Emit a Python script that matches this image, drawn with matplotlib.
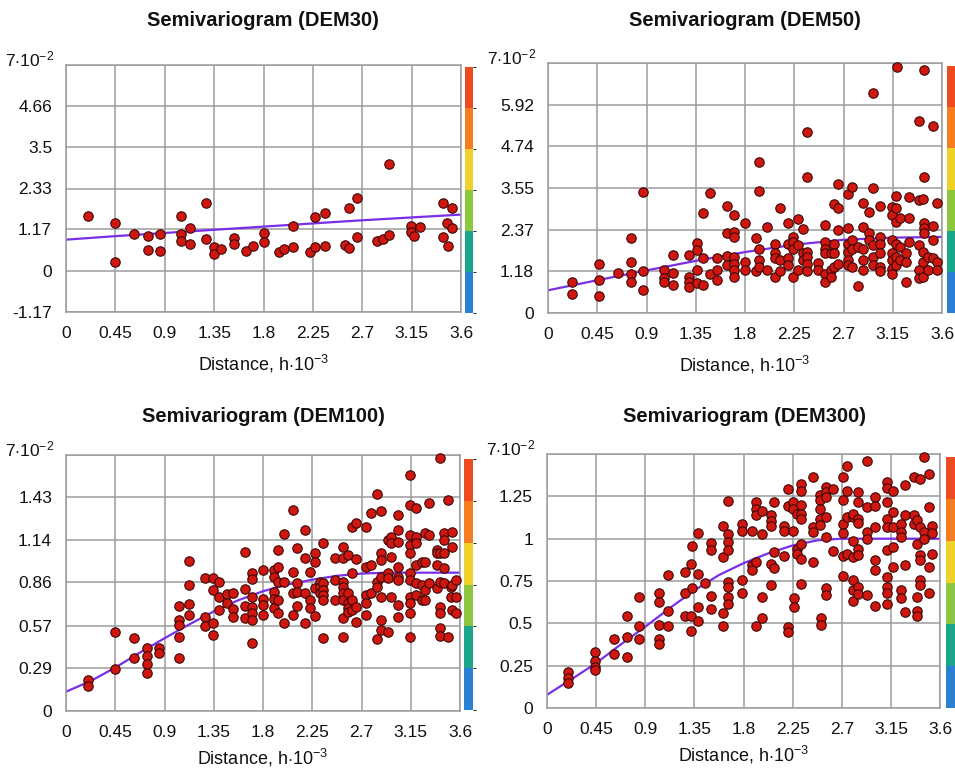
import matplotlib
matplotlib.use('Agg')
import matplotlib.pyplot as plt
from matplotlib.colors import ListedColormap, BoundaryNorm
import matplotlib as mpl

plt.rcParams['font.family'] = ['Liberation Sans', 'DejaVu Sans']
plt.rcParams['mathtext.fontset'] = 'custom'
plt.rcParams['mathtext.rm'] = 'Liberation Sans'
plt.rcParams['mathtext.it'] = 'Liberation Sans:italic'

# ---- data: lag columns and the semivariance values read at each lag ----
dem30_lags = [0.20, 0.45, 0.62, 0.75, 0.86, 1.05, 1.13, 1.28, 1.35, 1.41, 1.53, 1.64, 1.70,
              1.80, 1.94, 1.99, 2.07, 2.22, 2.27, 2.36, 2.54, 2.58, 2.65, 2.83, 2.89, 2.94,
              3.14, 3.17, 3.23, 3.44, 3.47, 3.48, 3.52]
dem30_vals = [[1.54], [1.34, 0.26], [1.04], [0.99, 0.59], [1.05, 0.56], [1.56, 1.04, 0.84],
              [1.20, 0.75], [1.92, 0.91], [0.67, 0.48], [0.61], [0.92, 0.76], [0.57], [0.71],
              [1.07, 0.81], [0.54], [0.62], [1.28, 0.68], [0.54], [0.66, 1.53], [1.63, 0.70],
              [0.72], [1.77, 0.63], [2.05, 0.96], [0.85], [0.91], [1.00, 3.03],
              [1.28, 1.11], [0.99], [1.25], [1.93, 0.96], [1.35], [0.70], [1.77, 1.20]]
dem30_curve_x = [0, 0.45, 0.9, 1.35, 1.8, 2.25, 2.7, 3.15, 3.6]
dem30_curve_y = [0.88, 0.98, 1.07, 1.16, 1.25, 1.34, 1.43, 1.51, 1.59]

dem50_lags = [0.22, 0.466, 0.64, 0.76, 0.87, 1.06, 1.14, 1.29, 1.36, 1.42, 1.48, 1.54, 1.64,
              1.70, 1.80, 1.90, 1.93, 2.00, 2.07, 2.12, 2.19, 2.24, 2.28, 2.33, 2.37, 2.47,
              2.53, 2.59, 2.61, 2.65, 2.74, 2.78, 2.83, 2.88, 2.93, 2.97, 3.03, 3.14, 3.18,
              3.19, 3.22, 3.27, 3.30, 3.39, 3.43, 3.44, 3.47, 3.52, 3.55]
dem50_vals = [[0.88, 0.55], [1.40, 0.93, 0.47], [1.14], [2.12, 1.45, 1.12, 0.88],
              [3.44, 1.19, 0.65], [1.23, 1.0, 0.88], [1.64, 1.15, 0.79], [1.64, 1.02, 0.88, 0.74],
              [1.99, 1.78, 1.21, 0.84], [2.83, 1.57, 0.79], [3.40, 1.12], [1.55, 1.21, 0.93],
              [3.05, 2.26, 1.61, 1.36], [2.78, 2.31, 2.16, 1.59, 1.40, 1.21, 1.02],
              [2.55, 1.45, 1.21], [2.13, 1.20], [4.30, 3.46, 1.83, 1.50, 1.31], [2.45, 1.21],
              [1.97, 1.69, 1.55, 1.02], [2.99, 1.50, 1.19], [2.56, 1.97, 1.55, 1.36],
              [2.16, 2.02, 1.83, 1.02], [2.66, 1.92, 1.21], [2.38, 1.71, 1.50],
              [5.15, 3.85, 1.74, 1.59, 1.40, 1.19], [1.42, 1.21],
              [2.50, 2.02, 1.83, 1.69, 1.12, 0.88], [1.71, 1.21, 1.02], [3.09, 1.97, 1.69, 1.31],
              [3.66, 2.97, 2.35, 1.40], [3.38, 2.40, 1.97, 1.74, 1.50, 1.36],
              [3.57, 2.07, 1.83, 1.31], [1.88, 0.76], [3.11, 2.45, 1.83, 1.50, 1.21],
              [2.88, 2.26, 2.07], [6.24, 3.56, 1.93, 1.59, 1.36],
              [3.05, 2.16, 1.97, 1.69, 1.31, 1.19], [3.02, 2.78, 2.07, 1.69, 1.50, 1.26, 1.12],
              [3.32, 2.97, 2.59, 1.97, 1.59, 1.36], [7.0], [2.69, 1.88, 1.50], [1.69, 1.45, 0.88],
              [3.30, 2.69, 2.02], [5.44, 3.21, 1.93, 1.21, 0.98], [3.23, 1.74, 1.45, 1.01],
              [6.89, 3.85, 2.56, 2.40, 2.26], [1.59, 1.21], [5.31, 2.47, 2.07, 1.55],
              [3.11, 1.45, 1.21]]
dem50_curve_x = [0, 0.45, 0.9, 1.35, 1.8, 2.25, 2.7, 3.15, 3.6]
dem50_curve_y = [0.645, 0.93, 1.21, 1.48, 1.73, 1.94, 2.08, 2.14, 2.16]

dem100_lags = [0.198, 0.45, 0.618, 0.739, 0.852, 1.035, 1.12, 1.266, 1.339, 1.40, 1.47, 1.525,
               1.637, 1.70, 1.80, 1.90, 1.935, 1.99, 2.07, 2.11, 2.18, 2.23, 2.276, 2.32, 2.35,
               2.46, 2.535, 2.58, 2.61, 2.65, 2.74, 2.785, 2.84, 2.88, 2.94, 2.97, 3.03, 3.14,
               3.20, 3.25, 3.28, 3.32, 3.39, 3.42, 3.45, 3.49, 3.52, 3.53, 3.56]
dem100_vals = [[0.207, 0.167], [0.526, 0.278], [0.49, 0.352], [0.419, 0.367, 0.314, 0.252],
               [0.419, 0.385], [0.70, 0.608, 0.575, 0.497, 0.352], [1.004, 0.842, 0.713, 0.641],
               [0.891, 0.630, 0.570], [0.887, 0.808, 0.590, 0.508], [0.864, 0.764, 0.675],
               [0.78, 0.72], [0.79, 0.68, 0.63], [1.06, 0.813, 0.70, 0.62],
               [0.92, 0.88, 0.764, 0.697, 0.652, 0.608, 0.456], [0.942, 0.746, 0.708, 0.641],
               [0.942, 0.897, 0.797, 0.746, 0.686], [1.076, 0.964, 0.864, 0.742, 0.652],
               [1.18, 0.864, 0.586], [1.343, 0.931, 0.786, 0.641], [1.087, 0.857, 0.797, 0.70],
               [1.21, 1.02, 0.786, 0.586], [0.931, 0.742, 0.686], [1.058, 0.998, 0.82, 0.635],
               [0.864, 0.83, 0.786], [1.12, 0.853, 0.808, 0.775, 0.742, 0.486],
               [1.02, 0.875, 0.742], [1.098, 1.02, 0.864, 0.83, 0.786, 0.742, 0.62, 0.492],
               [1.04, 0.786, 0.72, 0.686, 0.664], [1.23, 0.92, 0.742, 0.675],
               [1.254, 1.013, 0.697, 0.597], [1.23, 0.964, 0.775, 0.72, 0.641],
               [1.32, 0.975, 0.786], [1.45, 0.864, 0.83, 0.479],
               [1.336, 1.053, 1.009, 0.897, 0.764, 0.608, 0.541], [1.142, 0.92, 0.887, 0.53],
               [1.165, 1.12, 1.031, 0.764], [1.31, 1.21, 1.13, 0.964, 0.897, 0.875, 0.708, 0.63],
               [1.577, 1.376, 1.176, 1.109, 1.053, 0.92, 0.875, 0.764, 0.72, 0.652, 0.497],
               [1.358, 1.165, 1.12, 0.975, 0.853, 0.775], [0.998, 0.842, 0.742],
               [1.19, 0.998, 0.808, 0.742], [1.39, 1.176, 0.857], [1.076, 1.053, 0.975, 0.82],
               [1.688, 1.053, 0.864, 0.697, 0.652, 0.552, 0.501],
               [1.187, 1.142, 1.053, 0.953, 0.853], [1.41, 0.497], [0.83, 0.764],
               [1.198, 1.098, 0.842, 0.675], [0.875, 0.764, 0.652]]
dem100_curve_x = [0, 0.225, 0.45, 0.675, 0.9, 1.125, 1.35, 1.575, 1.8, 2.025, 2.25, 2.475,
                  2.7, 2.925, 3.15, 3.6]
dem100_curve_y = [0.129, 0.2, 0.29, 0.39, 0.486, 0.578, 0.665, 0.74, 0.80, 0.845, 0.877, 0.903,
                  0.918, 0.924, 0.924, 0.924]

dem300_lags = [0.19, 0.44, 0.61, 0.73, 0.84, 1.03, 1.11, 1.26, 1.32, 1.33, 1.38, 1.45, 1.50,
               1.61, 1.66, 1.785, 1.876, 1.91, 1.97, 2.05, 2.08, 2.17, 2.21, 2.25, 2.26, 2.29,
               2.33, 2.44, 2.50, 2.51, 2.557, 2.62, 2.71, 2.75, 2.80, 2.85, 2.93, 3.005, 3.11,
               3.17, 3.24, 3.28, 3.36, 3.39, 3.42, 3.45, 3.50, 3.53]
dem300_vals = [[0.21, 0.18, 0.15], [0.333, 0.275, 0.245, 0.222], [0.406, 0.32],
               [0.543, 0.418, 0.30], [0.653, 0.484, 0.406], [0.677, 0.628, 0.49, 0.406, 0.378],
               [0.784, 0.575, 0.484], [0.804, 0.677, 0.543], [0.853, 0.543, 0.457], [0.955, 0.706],
               [1.033, 0.794, 0.598, 0.516], [0.739], [0.975, 0.935, 0.661, 0.584],
               [1.073, 0.892, 0.563, 0.484],
               [1.222, 1.029, 0.98, 0.935, 0.745, 0.716, 0.653, 0.614],
               [1.084, 1.045, 0.755, 0.680], [1.043, 0.843, 0.814],
               [1.216, 1.177, 1.137, 0.861, 0.484], [1.161, 1.029, 0.653, 0.529],
               [1.137, 1.104, 1.073, 0.849, 0.726], [1.216, 0.922, 0.824], [1.073, 1.045, 0.896],
               [1.294, 1.19, 0.48, 0.451], [1.216, 1.177, 1.045], [0.647, 0.594],
               [1.147, 0.941, 0.908], [1.32, 1.284, 1.196, 1.147, 1.118, 0.967, 0.882, 0.731],
               [1.363, 1.069, 1.039, 0.863], [1.255, 1.226, 1.177, 1.118, 1.078], [0.529, 0.49],
               [1.308, 1.275, 1.245, 1.128, 1.010, 0.706, 0.667], [1.294, 0.928],
               [1.367, 1.226, 1.084, 1.033, 0.896, 0.778], [1.431, 1.284, 1.128, 0.912],
               [1.128, 1.147, 0.986, 0.892, 0.755, 0.696, 0.631],
               [1.275, 1.216, 1.118, 1.092, 0.941, 0.902, 0.716, 0.673],
               [1.457, 1.186, 1.039, 1.0, 0.667], [1.245, 1.19, 1.069, 0.873, 0.814, 0.602],
               [1.333, 1.300, 1.216, 1.118, 1.069, 0.935, 0.775, 0.716, 0.677, 0.614],
               [1.284, 1.157, 1.069, 0.951, 0.833], [1.088, 1.039, 1.010, 0.696, 0.647],
               [1.314, 1.137, 0.843, 0.569], [1.367, 1.137, 1.084],
               [1.108, 0.971, 0.653, 0.575, 0.543], [1.353, 1.069, 0.902, 0.873, 0.755, 0.726],
               [1.48, 1.039, 1.0], [1.379, 1.186, 0.833, 0.677], [1.073, 1.033, 0.908]]
dem300_curve_x = [0, 0.225, 0.45, 0.675, 0.9, 1.125, 1.35, 1.575, 1.8, 2.025, 2.25, 2.475,
                  2.7, 3.15, 3.6]
dem300_curve_y = [0.078, 0.17, 0.265, 0.375, 0.48, 0.59, 0.695, 0.785, 0.855, 0.913, 0.96,
                  0.99, 1.0, 1.0, 1.0]

xtick_vals = [0, 0.45, 0.9, 1.35, 1.8, 2.25, 2.7, 3.15, 3.6]
xtick_labels = ['0', '0.45', '0.9', '1.35', '1.8', '2.25', '2.7', '3.15', '3.6']

titles = ['Semivariogram (DEM30)', 'Semivariogram (DEM50)',
          'Semivariogram (DEM100)', 'Semivariogram (DEM300)']
ytick_vals = [[-1.17, 0, 1.17, 2.33, 3.5, 4.66, 5.83],
              [0, 1.18, 2.37, 3.55, 4.74, 5.92, 7.1],
              [0, 0.29, 0.57, 0.86, 1.14, 1.43, 1.71],
              [0, 0.25, 0.5, 0.75, 1.0, 1.25, 1.5]]
ytick_labels = [['-1.17', '0', '1.17', '2.33', '3.5', '4.66', ''],
                ['0', '1.18', '2.37', '3.55', '4.74', '5.92', ''],
                ['0', '0.29', '0.57', '0.86', '1.14', '1.43', ''],
                ['0', '0.25', '0.5', '0.75', '1', '1.25', '']]

bar_colors = ['#2a80d2', '#1ba58b', '#8dc63f', '#efd12b', '#f47d21', '#ec4a1f']

W, H = 955, 769


def rect(l, t, r, b):
    return [l / W, 1 - b / H, (r - l) / W, (b - t) / H]


def expand(lags, vals):
    xs, ys = [], []
    for lag, col in zip(lags, vals):
        for v in col:
            xs.append(lag)
            ys.append(v)
    return xs, ys


fig = plt.figure(figsize=(W / 100, H / 100), dpi=100)

axes_rects = [rect(66, 65, 461, 312), rect(548, 63, 942, 313),
              rect(66, 455, 460, 711), rect(547, 454, 940, 708)]
cbar_rects = [rect(465, 67, 473, 313), rect(947, 66, 956, 313),
              rect(464, 459, 473, 710), rect(946, 457, 956, 708)]
title_pos = [(263, 20), (745, 20), (263, 416), (744, 416)]
label_pads = [9, 9, 5, 5]

panels = [(dem30_lags, dem30_vals, dem30_curve_x, dem30_curve_y),
          (dem50_lags, dem50_vals, dem50_curve_x, dem50_curve_y),
          (dem100_lags, dem100_vals, dem100_curve_x, dem100_curve_y),
          (dem300_lags, dem300_vals, dem300_curve_x, dem300_curve_y)]

cmap = ListedColormap(bar_colors)
norm = BoundaryNorm(range(7), 6)

for i, (lags, vals, cx, cy) in enumerate(panels):
    ax = fig.add_axes(axes_rects[i])
    xs, ys = expand(lags, vals)
    ax.plot(cx, cy, color='#7a2ee6', lw=1.6, zorder=2)
    ax.scatter(xs, ys, s=46, c='#d0170f', edgecolors='#3a0808', linewidths=0.8,
               zorder=3, clip_on=False)
    ax.set_xlim(0, 3.6)
    ax.set_ylim(ytick_vals[i][0], ytick_vals[i][-1])
    ax.set_xticks(xtick_vals)
    ax.set_xticklabels(xtick_labels)
    ax.set_yticks(ytick_vals[i])
    ax.set_yticklabels(ytick_labels[i])
    ax.tick_params(axis='both', length=0, labelsize=12.5, colors='#111111')
    ax.tick_params(axis='x', pad=10)
    ax.tick_params(axis='y', pad=10)
    ax.grid(True, color='#9c9c9c', lw=1.1)
    ax.set_axisbelow(True)
    for sp in ax.spines.values():
        sp.set_color('#9c9c9c')
        sp.set_linewidth(1.1)
    ax.set_xlabel('Distance, h$\\cdot$10$^{-3}$', fontsize=13, labelpad=label_pads[i],
                  color='#111111')
    ax.annotate('7$\\cdot$10$^{-2}$', xy=(0, 1), xycoords='axes fraction',
                xytext=(-12, 6), textcoords='offset pixels', ha='right', va='center',
                fontsize=12.5, color='#111111')
    fig.text(title_pos[i][0] / W, 1 - title_pos[i][1] / H, titles[i],
             ha='center', va='center', fontsize=14.5, fontweight='bold', color='#111111')

    cax = fig.add_axes(cbar_rects[i])
    cb = mpl.colorbar.ColorbarBase(cax, cmap=cmap, norm=norm, orientation='vertical')
    cb.set_ticks([])
    cb.outline.set_visible(False)

fig.savefig('out.png', dpi=100, facecolor='white')
